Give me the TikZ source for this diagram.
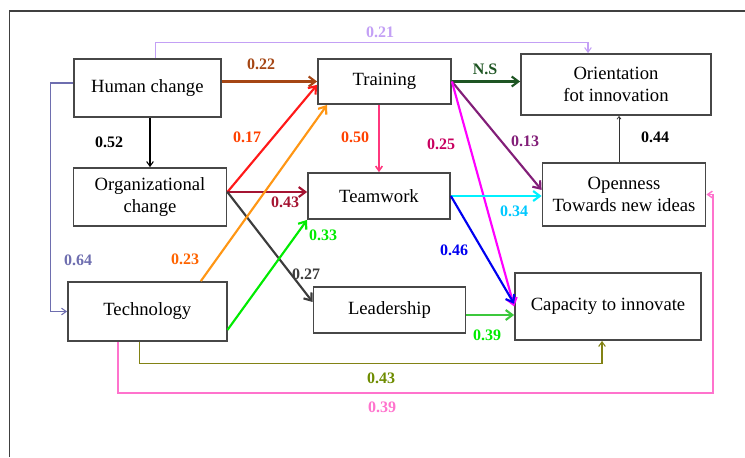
\documentclass[tikz,border=0pt]{standalone}
\usepackage{fontspec}
\setmainfont{Liberation Serif}
\usetikzlibrary{arrows.meta}

\definecolor{cBrown}{RGB}{165,70,20}
\definecolor{cNS}{RGB}{30,85,35}
\definecolor{cLav}{RGB}{195,160,245}
\definecolor{cSlate}{RGB}{110,110,175}
\definecolor{cRed}{RGB}{255,25,25}
\definecolor{cRedLb}{RGB}{255,65,0}
\definecolor{cPink}{RGB}{255,55,125}
\definecolor{cMag}{RGB}{255,0,255}
\definecolor{cMagLb}{RGB}{200,0,95}
\definecolor{cPurple}{RGB}{130,30,120}
\definecolor{cDRed}{RGB}{165,20,50}
\definecolor{cCyan}{RGB}{0,240,255}
\definecolor{cCyanLb}{RGB}{0,200,255}
\definecolor{cGreen}{RGB}{0,235,0}
\definecolor{cGreenL}{RGB}{60,200,60}
\definecolor{cOrange}{RGB}{255,150,20}
\definecolor{cOrangeLb}{RGB}{255,100,0}
\definecolor{cBlue}{RGB}{0,0,240}
\definecolor{cGray}{RGB}{60,60,60}
\definecolor{cOlive}{RGB}{130,130,20}
\definecolor{cOliveLb}{RGB}{110,140,0}
\definecolor{cRose}{RGB}{255,115,205}

\begin{document}
\begin{tikzpicture}[x=0.75pt, y=-0.75pt,
  every node/.style={font=\fontsize{14}{16.5}\selectfont},
  bx/.style={draw=black!72, line width=1.3pt, fill=white, align=center, inner sep=0pt},
  lb/.style={font=\fontsize{12}{14}\selectfont\bfseries, inner sep=1pt},
  ar/.style={-{Straight Barb[length=5pt,width=7.5pt]}, line width=1.6pt},
  tn/.style={-{Straight Barb[length=3.5pt,width=5pt]}, line width=0.8pt}]

\useasboundingbox (0,0) rectangle (745,457);

% ---------------- frame ----------------
\draw[black!75, line width=1.2pt] (9.5,457) -- (9.5,11) -- (745,11);

% ---------------- left column ----------------
\node[bx, minimum width=110.5pt, minimum height=43.5pt] (hc) at (147.3,88) {Human change};
\node[bx, minimum width=114.8pt, minimum height=43.5pt] (oc) at (150,197) {Organizational\\change};
\node[bx, minimum width=119pt, minimum height=44.3pt] (tech) at (147.3,311.5) {Technology};

% ---------------- middle column ----------------
\node[bx, minimum width=99.8pt, minimum height=33.8pt] (tr) at (384.5,81.5) {Training};
\node[bx, minimum width=106.5pt, minimum height=34.5pt] (tw) at (379,196) {Teamwork};
\node[bx, minimum width=114pt, minimum height=34.5pt] (ld) at (389.5,310) {Leadership};

% ---------------- right column ----------------
\node[bx, minimum width=142.5pt, minimum height=45.8pt] (ori) at (616,84.5) {Orientation\\fot innovation};
\node[bx, minimum width=122.3pt, minimum height=47.3pt] (opn) at (624,194.5) {Openness\\Towards new ideas};
\node[bx, minimum width=139.5pt, minimum height=50.3pt] (cap) at (608,306.5) {Capacity to innovate};

% ---------------- paths from human change ----------------
\draw[ar, cBrown] (hc.east |- tr.west) -- (tr.west);
\draw[tn, black] (oc.north |- hc.south) -- (oc.north);
\draw[tn, cLav] ([xshift=5.8pt]hc.north) -- ++(0,-16) -| ([xshift=-21pt]ori.north);
\draw[tn, cSlate] ([yshift=3.75pt]hc.west) -- ++(-22,0) |- (tech.west);

% ---------------- paths from organizational change ----------------
\draw[ar, cRed] ([yshift=3.75pt]oc.east) -- ([yshift=-2.5pt]tr.west);
\draw[ar, cDRed] ([yshift=3.75pt]oc.east) -- ([yshift=3.75pt]oc.east -| tw.west);
\draw[ar, cGray] ([yshift=3.75pt]oc.east) -- ([yshift=6pt]ld.west);

% ---------------- paths from technology ----------------
\draw[ar, cOrange] ([xshift=-20pt]tech.north east) -- ([xshift=7.5pt]tr.south west);
\draw[ar, cGreen] ([yshift=9pt]tech.south east) -- (tw.south west);
\draw[tn, cOlive] ([xshift=-6.2pt]tech.south) -- ++(0,22) -| ([xshift=-4.5pt]cap.south);
\draw[tn, cRose, line width=1.1pt] ([xshift=-22pt]tech.south) -- ++(0,51) -| ([xshift=5pt]opn.east) -- (opn.east);

% ---------------- paths from training ----------------
\draw[ar, cNS] (tr.east) -- (tr.east -| ori.west);
\draw[tn, cPink, line width=1.2pt] (tw.north |- tr.south) -- (tw.north);
\draw[ar, cPurple] (tr.east) -- ([yshift=3.4pt]opn.west);
\draw[ar, cMag] (tr.east) -- (cap.west);

% ---------------- paths from teamwork and leadership ----------------
\draw[ar, cCyan] (tw.east) -- (tw.east -| opn.west);
\draw[ar, cBlue] (tw.east) -- ([yshift=2pt]cap.west);
\draw[ar, cGreenL] ([yshift=-3.75pt]ld.east) -- ([yshift=-3.75pt]ld.east -| cap.west);

% ---------------- openness to orientation ----------------
\draw[-{Straight Barb[length=2pt,width=3pt]}, line width=0.6pt, black!80] ([xshift=-3.75pt]opn.north) -- ([xshift=-3.75pt]opn.north |- ori.south);

% ---------------- coefficients ----------------
\node[lb, text=cLav] (l21) at (380,32) {0.21};
\node[lb, text=cBrown] (l22) at (261,64) {0.22};
\node[lb, text=cNS] (lns) at (485,69) {N.S};
\node[lb] (l52) at (109,142) {0.52};
\node[lb, text=cRedLb] (l17) at (247,137) {0.17};
\node[lb, text=cRedLb] (l50) at (355,137) {0.50};
\node[lb, text=cMagLb] (l25) at (441,144) {0.25};
\node[lb, text=cPurple] (l13) at (525,141) {0.13};
\node[lb] (l44) at (655,137) {0.44};
\node[lb, text=cDRed] (l43a) at (285,202) {0.43};
\node[lb, text=cCyanLb] (l34) at (514,211) {0.34};
\node[lb, text=cGreen] (l33) at (323,235) {0.33};
\node[lb, text=cSlate] (l64) at (78,260) {0.64};
\node[lb, text=cOrangeLb] (l23) at (185,259) {0.23};
\node[lb, text=cBlue] (l46) at (454,250) {0.46};
\node[lb, text=cGray] (l27) at (306,274) {0.27};
\node[lb, text=cGreen] (l39a) at (487,335) {0.39};
\node[lb, text=cOliveLb] (l43b) at (381,378) {0.43};
\node[lb, text=cRose] (l39b) at (382,407) {0.39};
\end{tikzpicture}
\end{document}
